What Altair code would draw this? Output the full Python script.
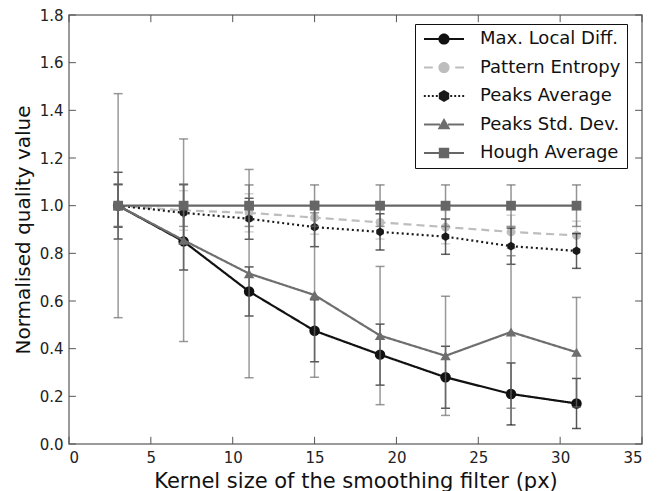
import altair as alt
import pandas as pd

# ---------------- data ----------------
kernel_sizes = [3, 7, 11, 15, 19, 23, 27, 31]
series_names = ["Max. Local Diff.", "Pattern Entropy", "Peaks Average",
                "Peaks Std. Dev.", "Hough Average"]

max_local = [1.0, 0.85, 0.64, 0.475, 0.375, 0.28, 0.21, 0.17]
max_local_err = [0.14, 0.12, 0.103, 0.13, 0.128, 0.13, 0.13, 0.105]
pattern_entropy = [1.0, 0.98, 0.97, 0.95, 0.93, 0.91, 0.89, 0.875]
pattern_entropy_err = [0.09, 0.083, 0.08, 0.07, 0.07, 0.07, 0.07, 0.06]
peaks_average = [1.0, 0.97, 0.945, 0.91, 0.89, 0.87, 0.83, 0.81]
peaks_average_err = [0.09, 0.12, 0.086, 0.082, 0.076, 0.074, 0.076, 0.073]
peaks_std = [1.0, 0.855, 0.715, 0.625, 0.455, 0.37, 0.47, 0.385]
peaks_std_err = [0.47, 0.425, 0.437, 0.345, 0.29, 0.25, 0.32, 0.23]
hough = [1.0, 1.0, 1.0, 1.0, 1.0, 1.0, 1.0, 1.0]
hough_err = [0.087, 0.087, 0.087, 0.087, 0.087, 0.087, 0.087, 0.087]

x_ticks = [0, 5, 10, 15, 20, 25, 30, 35]
y_ticks = [0.0, 0.2, 0.4, 0.6, 0.8, 1.0, 1.2, 1.4, 1.6, 1.8]

values = [max_local, pattern_entropy, peaks_average, peaks_std, hough]
errors = [max_local_err, pattern_entropy_err, peaks_average_err, peaks_std_err, hough_err]

rows = []
for name, vals, errs in zip(series_names, values, errors):
    for k, v, e in zip(kernel_sizes, vals, errs):
        rows.append({"series": name, "k": k, "v": v, "lo": v - e, "hi": v + e})
df = pd.DataFrame(rows)

# ---------------- styles ----------------
colors = ["#111111", "#bdbdbd", "#1a1a1a", "#6e6e6e", "#666666"]
dashes = [[1, 0], [8, 5], [2, 3], [1, 0], [1, 0]]
hexagon = "M0,-1L0.866,-0.5L0.866,0.5L0,1L-0.866,0.5L-0.866,-0.5Z"
shapes = ["circle", "circle", hexagon, "triangle-up", "square"]
sizes = [110, 80, 75, 110, 95]


def seg(a, b, h=0.13):
    return f"M{a},{-h}H{b}V{h}H{a}Z"


circ = "M-0.7,0A0.7,0.7,0,1,1,0.7,0A0.7,0.7,0,1,1,-0.7,0Z"
hexl = "M0,-0.75L0.65,-0.375L0.65,0.375L0,0.75L-0.65,0.375L-0.65,-0.375Z"
tri = "M0,-0.8L0.8,0.6L-0.8,0.6Z"
sq = "M-0.65,-0.65H0.65V0.65H-0.65Z"
dots = "".join(seg(c - 0.12, c + 0.12, 0.12) for c in [-2.4, -1.9, -1.4, -0.9, 0.9, 1.4, 1.9, 2.4])
legend_paths = [
    seg(-2.5, -0.5) + circ + seg(0.5, 2.5),
    seg(-2.5, -1.4) + circ + seg(1.4, 2.5),
    dots + hexl,
    seg(-2.5, -0.5) + tri + seg(0.5, 2.5),
    seg(-2.5, -0.5) + sq + seg(0.5, 2.5),
]

FONT = "DejaVu Sans"
xscale = alt.Scale(domain=[0, 35], nice=False, zero=False)
yscale = alt.Scale(domain=[0, 1.8], nice=False)
xaxis = alt.Axis(values=x_ticks, ticks=False, domain=False, grid=False,
                 labelFont=FONT, labelFontSize=15, labelColor="#222", labelPadding=6,
                 title="Kernel size of the smoothing filter (px)", titleFont=FONT,
                 titleFontSize=21, titleFontWeight="normal", titleColor="#111", titlePadding=5)
yaxis = alt.Axis(values=y_ticks, format=".1f", ticks=False, domain=False, grid=False,
                 labelFont=FONT, labelFontSize=15, labelColor="#222", labelPadding=6,
                 title="Normalised quality value", titleFont=FONT,
                 titleFontSize=20, titleFontWeight="normal", titleColor="#111", titlePadding=6)

X = alt.X("k:Q", scale=xscale, axis=xaxis)
Y = alt.Y("v:Q", scale=yscale, axis=yaxis)

layers = []
for i, name in enumerate(series_names):
    base = alt.Chart(df).transform_filter(alt.datum.series == name)
    layers.append(base.mark_rule(color=colors[i], strokeWidth=1.5, opacity=0.7).encode(
        x=X, y=alt.Y("lo:Q", scale=yscale, axis=yaxis), y2="hi:Q"))
    layers.append(base.mark_tick(color=colors[i], orient="horizontal", size=9, thickness=1.5,
                                 opacity=0.7).encode(x=X, y=alt.Y("lo:Q", scale=yscale, axis=yaxis)))
    layers.append(base.mark_tick(color=colors[i], orient="horizontal", size=9, thickness=1.5,
                                 opacity=0.7).encode(x=X, y=alt.Y("hi:Q", scale=yscale, axis=yaxis)))
    layers.append(base.mark_line(color=colors[i], strokeWidth=2.2, strokeDash=dashes[i]).encode(x=X, y=Y))
    layers.append(base.mark_point(color=colors[i], shape=shapes[i], size=sizes[i], filled=True,
                                  opacity=1).encode(x=X, y=Y))

# legend-only layer (no marks drawn)
legend = alt.Legend(title=None, orient="none", legendX=346, legendY=9,
                    labelFont=FONT, labelFontSize=18, labelColor="#111",
                    symbolSize=256, symbolStrokeWidth=0, symbolOffset=14, symbolOpacity=1,
                    labelOffset=27, rowPadding=10.5, padding=6,
                    strokeColor="#111", fillColor="white", cornerRadius=0)
legend_layer = alt.Chart(df).transform_filter(alt.datum.k < 0).mark_point(filled=True, opacity=1).encode(
    x=X, y=Y,
    fill=alt.Fill("series:N", scale=alt.Scale(domain=series_names, range=colors), legend=legend, sort=series_names),
    shape=alt.Shape("series:N", scale=alt.Scale(domain=series_names, range=legend_paths), legend=legend, sort=series_names),
)

# inside tick marks (matplotlib style)
xt = pd.DataFrame({"t": x_ticks})
yt = pd.DataFrame({"t": y_ticks})
tick_style = dict(color="#555", strokeWidth=1)
tb = alt.Chart(xt).mark_rule(**tick_style).encode(
    x=alt.X("t:Q", scale=xscale, axis=xaxis), y=alt.datum(0), y2=alt.datum(0.03))
tt = alt.Chart(xt).mark_rule(**tick_style).encode(
    x=alt.X("t:Q", scale=xscale, axis=xaxis), y=alt.datum(1.77), y2=alt.datum(1.8))
tl = alt.Chart(yt).mark_rule(**tick_style).encode(
    y=alt.Y("t:Q", scale=yscale, axis=yaxis), x=alt.datum(0), x2=alt.datum(0.42))
tr = alt.Chart(yt).mark_rule(**tick_style).encode(
    y=alt.Y("t:Q", scale=yscale, axis=yaxis), x=alt.datum(34.58), x2=alt.datum(35))

chart = alt.layer(tb, tt, tl, tr, *layers, legend_layer).properties(
    width=573, height=429,
    autosize=alt.AutoSizeParams(type="none"),
    padding={"left": 69, "top": 15, "right": 24, "bottom": 47},
    background="white",
).configure_view(stroke="#7a7a7a", strokeWidth=1.5)

chart.save("out.html", embed_options={"renderer": "svg", "actions": False})
